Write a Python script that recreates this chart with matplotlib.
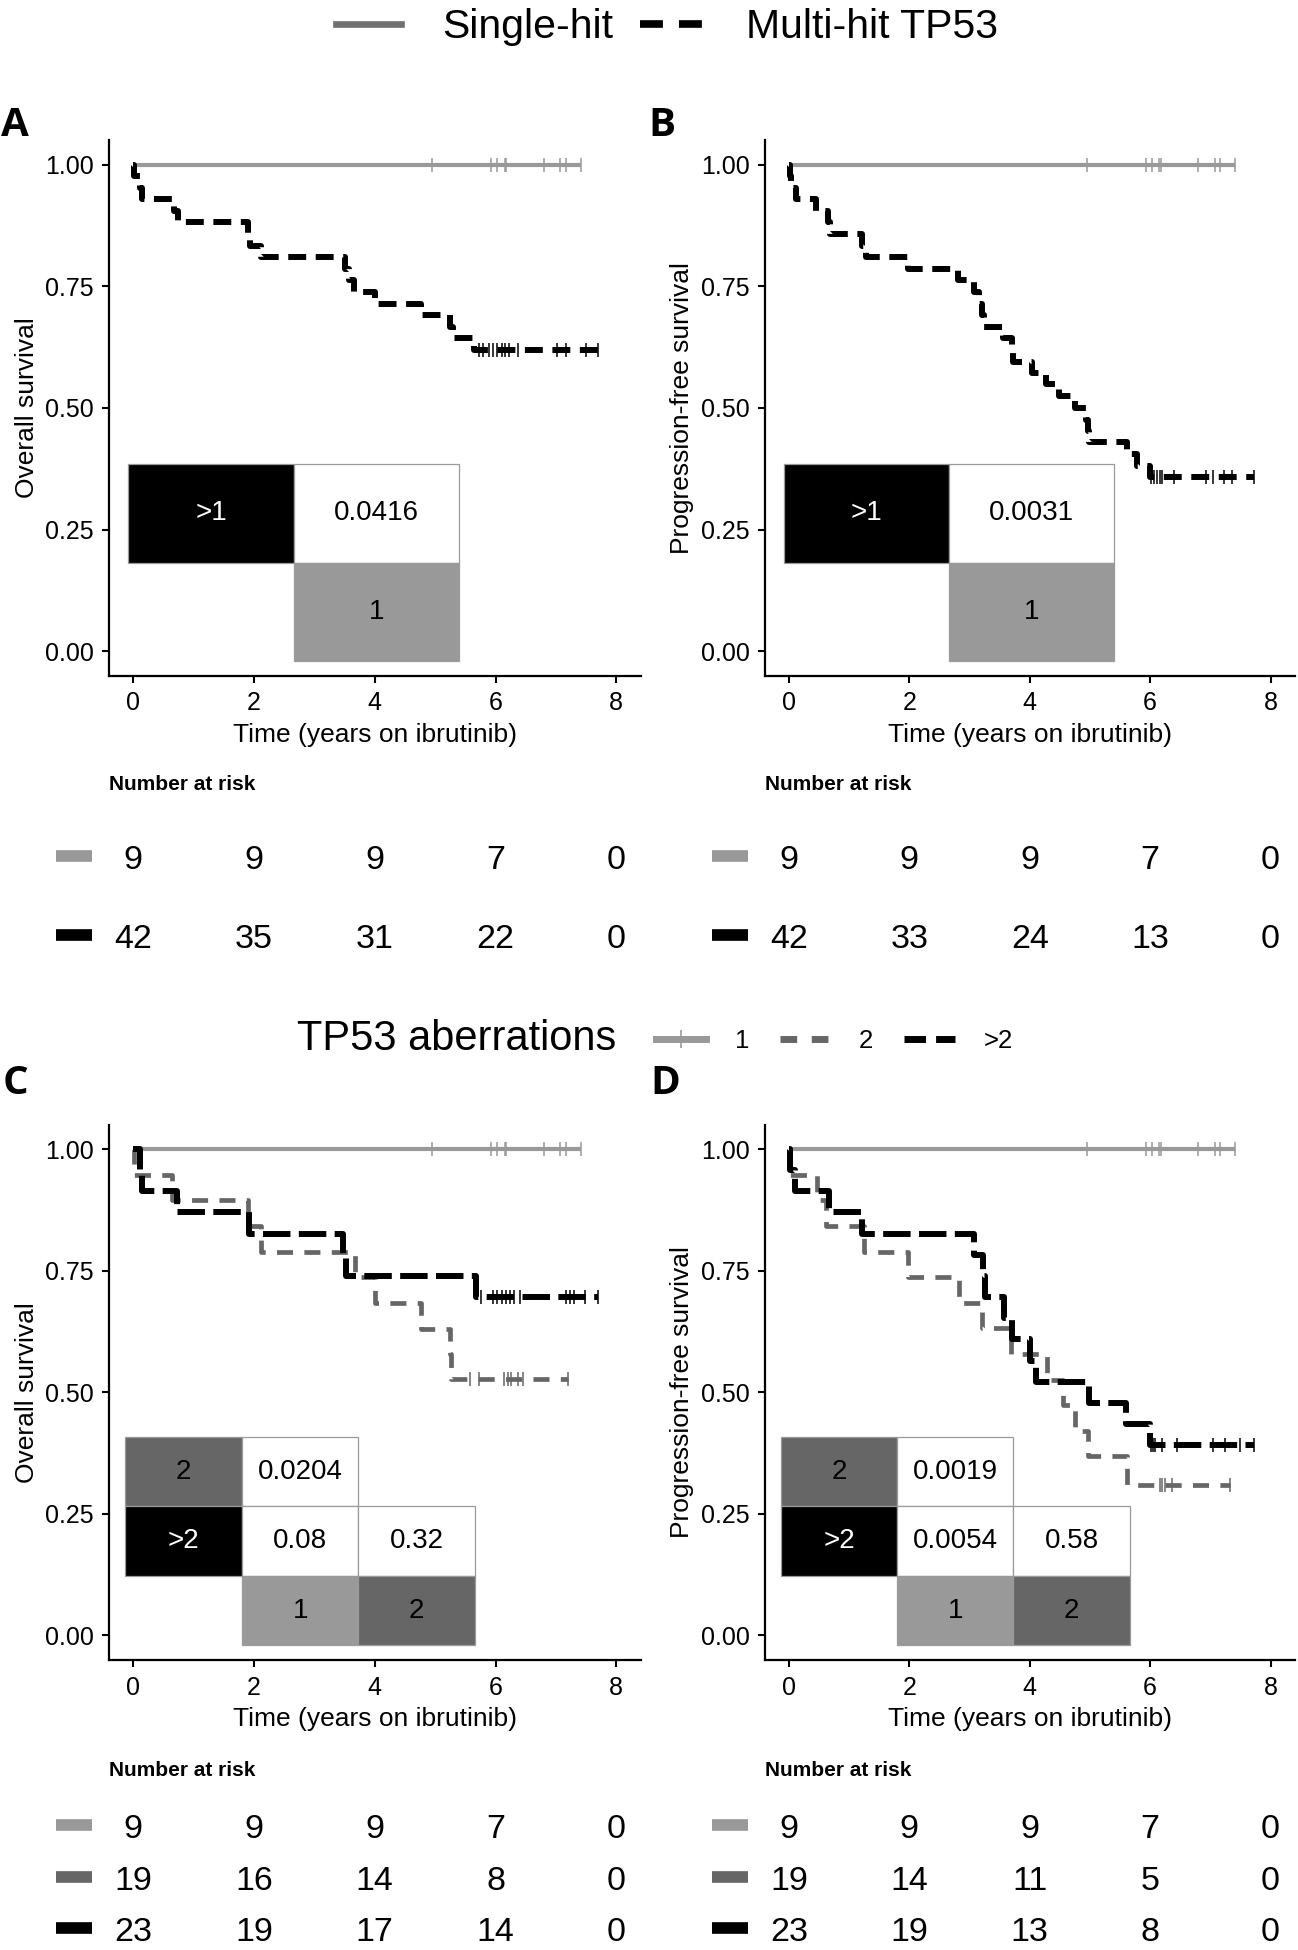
import numpy as np
import matplotlib
matplotlib.use('Agg')
import matplotlib.pyplot as plt
from matplotlib.lines import Line2D
from matplotlib.patches import Rectangle
from matplotlib.ticker import FormatStrFormatter
from matplotlib.transforms import blended_transform_factory, offset_copy

plt.rcParams['font.family'] = ['Liberation Sans', 'DejaVu Sans']

W, H = 1298, 1950

# ---------------- data ----------------
risk_times = [0, 2, 4, 6, 8]

# single-hit / 1 aberration (same curve in every panel)
single_t = [0.0]
single_s = [1.0]
single_cens = [4.95, 5.93, 6.03, 6.15, 6.18, 6.80, 7.07, 7.16, 7.41]

# A: overall survival, multi-hit TP53
os_multi_t = [0.0, 0.02, 0.12, 0.15, 0.68, 0.75, 1.90, 1.94, 2.12, 3.50, 3.58, 3.65,
              4.00, 4.76, 5.25, 5.30, 5.64]
os_multi_s = [1.0, 0.976, 0.952, 0.929, 0.905, 0.881, 0.857, 0.833, 0.810, 0.786, 0.762,
              0.738, 0.714, 0.690, 0.667, 0.643, 0.619]
os_multi_cens = [5.72, 5.79, 5.89, 5.95, 6.03, 6.10, 6.16, 6.23, 6.37, 7.02, 7.16, 7.50, 7.69]

# B: progression-free survival, multi-hit TP53
pfs_multi_t = [0.0, 0.01, 0.03, 0.12, 0.45, 0.65, 0.68, 1.22, 1.28, 1.97, 2.80, 3.07,
               3.15, 3.20, 3.24, 3.56, 3.70, 3.73, 4.03, 4.27, 4.48, 4.75, 4.93, 4.96,
               4.99, 5.61, 5.78, 5.99]
pfs_multi_s = [1.0, 0.976, 0.952, 0.929, 0.905, 0.881, 0.857, 0.833, 0.810, 0.786, 0.762,
               0.738, 0.714, 0.690, 0.667, 0.643, 0.619, 0.595, 0.571, 0.548, 0.524,
               0.500, 0.476, 0.452, 0.429, 0.405, 0.381, 0.357]
pfs_multi_cens = [6.01, 6.06, 6.12, 6.16, 6.20, 6.39, 6.92, 7.05, 7.22, 7.36, 7.72]

# C: overall survival by number of aberrations
os_g2_t = [0.0, 0.01, 0.65, 1.90, 2.12, 3.67, 4.00, 4.76, 5.24, 5.27]
os_g2_s = [1.0, 0.947, 0.895, 0.842, 0.789, 0.737, 0.684, 0.630, 0.579, 0.527]
os_g2_cens = [5.57, 5.72, 6.14, 6.20, 6.25, 6.37, 6.45, 7.20]
os_g3_t = [0.0, 0.12, 0.15, 0.72, 1.92, 3.48, 3.52, 5.67]
os_g3_s = [1.0, 0.957, 0.913, 0.870, 0.826, 0.783, 0.739, 0.696]
os_g3_cens = [5.76, 5.95, 6.02, 6.10, 6.18, 6.24, 6.31, 6.41, 7.16, 7.23, 7.30, 7.48, 7.70]

# D: progression-free survival by number of aberrations
pfs_g2_t = [0.0, 0.01, 0.46, 0.62, 1.25, 1.97, 2.82, 3.20, 3.69, 4.29, 4.55, 4.75, 4.97, 5.61]
pfs_g2_s = [1.0, 0.947, 0.895, 0.842, 0.789, 0.737, 0.684, 0.632, 0.579, 0.526, 0.474,
            0.421, 0.368, 0.310]
pfs_g2_cens = [6.16, 6.20, 6.24, 6.37, 7.33]
pfs_g3_t = [0.0, 0.01, 0.10, 0.67, 1.22, 3.08, 3.22, 3.26, 3.58, 3.70, 4.01, 4.10, 4.99,
            5.60, 5.99]
pfs_g3_s = [1.0, 0.957, 0.913, 0.870, 0.826, 0.783, 0.739, 0.696, 0.652, 0.609, 0.565,
            0.522, 0.478, 0.435, 0.391]
pfs_g3_cens = [6.01, 6.04, 6.08, 6.20, 6.44, 7.05, 7.24, 7.50, 7.72]

# numbers at risk
risk_A_single = [9, 9, 9, 7, 0]
risk_A_multi = [42, 35, 31, 22, 0]
risk_B_single = [9, 9, 9, 7, 0]
risk_B_multi = [42, 33, 24, 13, 0]
risk_C_g1 = [9, 9, 9, 7, 0]
risk_C_g2 = [19, 16, 14, 8, 0]
risk_C_g3 = [23, 19, 17, 14, 0]
risk_D_g1 = [9, 9, 9, 7, 0]
risk_D_g2 = [19, 14, 11, 5, 0]
risk_D_g3 = [23, 19, 13, 8, 0]

# pairwise p-value tables
ab_rows, ab_cols = ['>1'], ['1']
pvals_A = [['0.0416']]
pvals_B = [['0.0031']]
cd_rows, cd_cols = ['2', '>2'], ['1', '2']
pvals_C = [['0.0204', ''], ['0.08', '0.32']]
pvals_D = [['0.0019', ''], ['0.0054', '0.58']]

# ---------------- styles ----------------
LIGHT, DARK = '#999999', '#666666'
styles = {
    'single': dict(color=LIGHT, lw=3.0, ls='-'),
    'multi': dict(color='black', lw=4.3, ls=(0, (3.0, 1.6))),
    'g2': dict(color=DARK, lw=3.4, ls=(0, (3.4, 2.4))),
    'g3': dict(color='black', lw=4.3, ls=(0, (4.6, 1.4))),
}
group_fill = {'1': LIGHT, '2': DARK, '>1': 'black', '>2': 'black'}

fig = plt.figure(figsize=(W / 100, H / 100), dpi=100)


def px_axes(l, t, r, b):
    return fig.add_axes([l / W, 1 - b / H, (r - l) / W, (b - t) / H])


def draw_km(ax, t, s, cens, st):
    t_end = max(cens) if cens else t[-1]
    xs = list(t) + [t_end]
    ys = list(s) + [s[-1]]
    ax.step(xs, ys, where='post', color=st['color'], lw=st['lw'], linestyle=st['ls'],
            solid_capstyle='butt', zorder=3)
    idx = np.searchsorted(t, cens, side='right') - 1
    ax.plot(cens, np.array(s)[idx], ls='none', marker='|', ms=9.5, mew=1.1,
            color=st['color'], zorder=4)


def draw_ptable(ax, rows, cols, pvals, box):
    nr, nc = len(rows), len(cols)
    tab = ax.inset_axes(box, transform=ax.transData)
    tab.set_xlim(0, nc + 1)
    tab.set_ylim(nr + 1, 0)
    tab.axis('off')

    def cell(c, r, label, fill):
        tab.add_patch(Rectangle((c, r), 1, 1, facecolor=fill, edgecolor='#9a9a9a',
                                lw=0.9, clip_on=False))
        tab.text(c + 0.5, r + 0.5, label, ha='center', va='center', fontsize=20,
                 color='white' if fill == 'black' else 'black')

    for r, lab in enumerate(rows):
        cell(0, r, lab, group_fill[lab])
        for c in range(nc):
            if pvals[r][c]:
                cell(c + 1, r, pvals[r][c], 'white')
    for c, lab in enumerate(cols):
        cell(c + 1, nr, lab, group_fill[lab])


def style_km_axes(ax, ylabel):
    ax.set_xlim(-0.4, 8.4)
    ax.set_ylim(-0.05, 1.05)
    ax.set_xticks([0, 2, 4, 6, 8])
    ax.set_yticks([0, 0.25, 0.5, 0.75, 1.0])
    ax.yaxis.set_major_formatter(FormatStrFormatter('%.2f'))
    for sp in ['top', 'right']:
        ax.spines[sp].set_visible(False)
    for sp in ['left', 'bottom']:
        ax.spines[sp].set_linewidth(1.6)
    ax.tick_params(direction='out', length=5, width=1.5, labelsize=18)
    ax.tick_params(axis='x', pad=6.5)
    ax.tick_params(axis='y', pad=6)
    ax.set_xlabel('Time (years on ibrutinib)', fontsize=19, labelpad=5.5)
    ax.set_ylabel(ylabel, fontsize=19, labelpad=4.5)


def draw_risk(l, r, top_row, spacing, header_gap, rows):
    n = len(rows)
    rax = px_axes(l, top_row - spacing / 2, r, top_row + spacing * (n - 0.5))
    rax.set_xlim(-0.4, 8.4)
    rax.set_ylim(n - 0.5, -0.5)
    rax.axis('off')
    trans = blended_transform_factory(rax.transAxes, rax.transData)
    rax.text(0, 0, 'Number at risk',
             transform=offset_copy(trans, fig, y=header_gap * 0.72, units='points'),
             fontsize=15, fontweight='bold', ha='left', va='center')
    num_trans = offset_copy(rax.transData, fig, y=-3.3, units='points')
    for i, (vals, color) in enumerate(rows):
        rax.plot([-1.28, -0.68], [i, i], color=color, lw=8.4, solid_capstyle='butt',
                 clip_on=False)
        for x, v in zip(risk_times, vals):
            rax.text(x, i, str(v), ha='center', va='center', fontsize=24.5,
                     transform=num_trans)


panels = [
    dict(letter='A', box=(109, 140.2, 640.5, 675.5), ylabel='Overall survival',
         curves=[(single_t, single_s, single_cens, 'single'),
                 (os_multi_t, os_multi_s, os_multi_cens, 'multi')],
         table=(ab_rows, ab_cols, pvals_A, [-0.08, -0.021, 5.48, 0.406]),
         risk=(855.8, 79.2, 70.8, [(risk_A_single, LIGHT), (risk_A_multi, 'black')])),
    dict(letter='B', box=(764.9, 140.2, 1294.6, 675.5), ylabel='Progression-free survival',
         curves=[(single_t, single_s, single_cens, 'single'),
                 (pfs_multi_t, pfs_multi_s, pfs_multi_cens, 'multi')],
         table=(ab_rows, ab_cols, pvals_B, [-0.08, -0.021, 5.48, 0.406]),
         risk=(855.8, 79.2, 70.8, [(risk_B_single, LIGHT), (risk_B_multi, 'black')])),
    dict(letter='C', box=(109, 1124.7, 640.5, 1659.8), ylabel='Overall survival',
         curves=[(single_t, single_s, single_cens, 'single'),
                 (os_g2_t, os_g2_s, os_g2_cens, 'g2'),
                 (os_g3_t, os_g3_s, os_g3_cens, 'g3')],
         table=(cd_rows, cd_cols, pvals_C, [-0.13, -0.02, 5.79, 0.428]),
         risk=(1825, 51.5, 55, [(risk_C_g1, LIGHT), (risk_C_g2, DARK), (risk_C_g3, 'black')])),
    dict(letter='D', box=(764.9, 1124.7, 1294.6, 1659.8), ylabel='Progression-free survival',
         curves=[(single_t, single_s, single_cens, 'single'),
                 (pfs_g2_t, pfs_g2_s, pfs_g2_cens, 'g2'),
                 (pfs_g3_t, pfs_g3_s, pfs_g3_cens, 'g3')],
         table=(cd_rows, cd_cols, pvals_D, [-0.13, -0.02, 5.79, 0.428]),
         risk=(1825, 51.5, 55, [(risk_D_g1, LIGHT), (risk_D_g2, DARK), (risk_D_g3, 'black')])),
]

letter_pos = {'A': (15, 125), 'B': (662, 125), 'C': (15, 1084), 'D': (665, 1084)}

for p in panels:
    l, t, r, b = p['box']
    ax = px_axes(l, t, r, b)
    style_km_axes(ax, p['ylabel'])
    draw_ptable(ax, *p['table'])
    for ct, cs, cc, key in p['curves']:
        draw_km(ax, ct, cs, cc, styles[key])
    top_row, spacing, header_gap, rows = p['risk']
    draw_risk(l, r, top_row, spacing, header_gap, rows)
    lx, ly = letter_pos[p['letter']]
    fig.text(lx / W, 1 - ly / H, p['letter'], fontsize=29, fontweight='bold',
             family=['Open Sans', 'DejaVu Sans'], ha='center', va='center')

# top legend
top_handles = [Line2D([], [], color='#707070', lw=4.8),
               Line2D([], [], color='black', lw=5.5, linestyle=(0, (3.0, 2.1)))]
fig.legend(top_handles, ['Single-hit', 'Multi-hit TP53'], loc='center left',
           bbox_to_anchor=(335.8 / W, 1 - 27.5 / H), ncol=2, fontsize=29.5,
           handlelength=1.59, handletextpad=1.0, columnspacing=0.67,
           frameon=False, borderpad=0, borderaxespad=0)

# middle legend
fig.text(297.4 / W, 1 - 1039 / H, 'TP53 aberrations', fontsize=30, ha='left', va='center')
mid_handles = [Line2D([], [], color=LIGHT, lw=5, marker='|', ms=13, mew=1.2, mec=LIGHT),
               Line2D([], [], color=DARK, lw=5, linestyle=(0, (2.4, 2.1))),
               Line2D([], [], color='black', lw=5, linestyle=(0, (3.1, 1.45)))]
fig.legend(mid_handles, ['1', '2', '>2'], loc='center left',
           bbox_to_anchor=(655.6 / W, 1 - 1040.5 / H), ncol=3, fontsize=18.5,
           handlelength=1.98, handletextpad=1.1, columnspacing=1.2, numpoints=1,
           frameon=False, borderpad=0, borderaxespad=0)

fig.savefig('out.png', dpi=100, facecolor='white')
